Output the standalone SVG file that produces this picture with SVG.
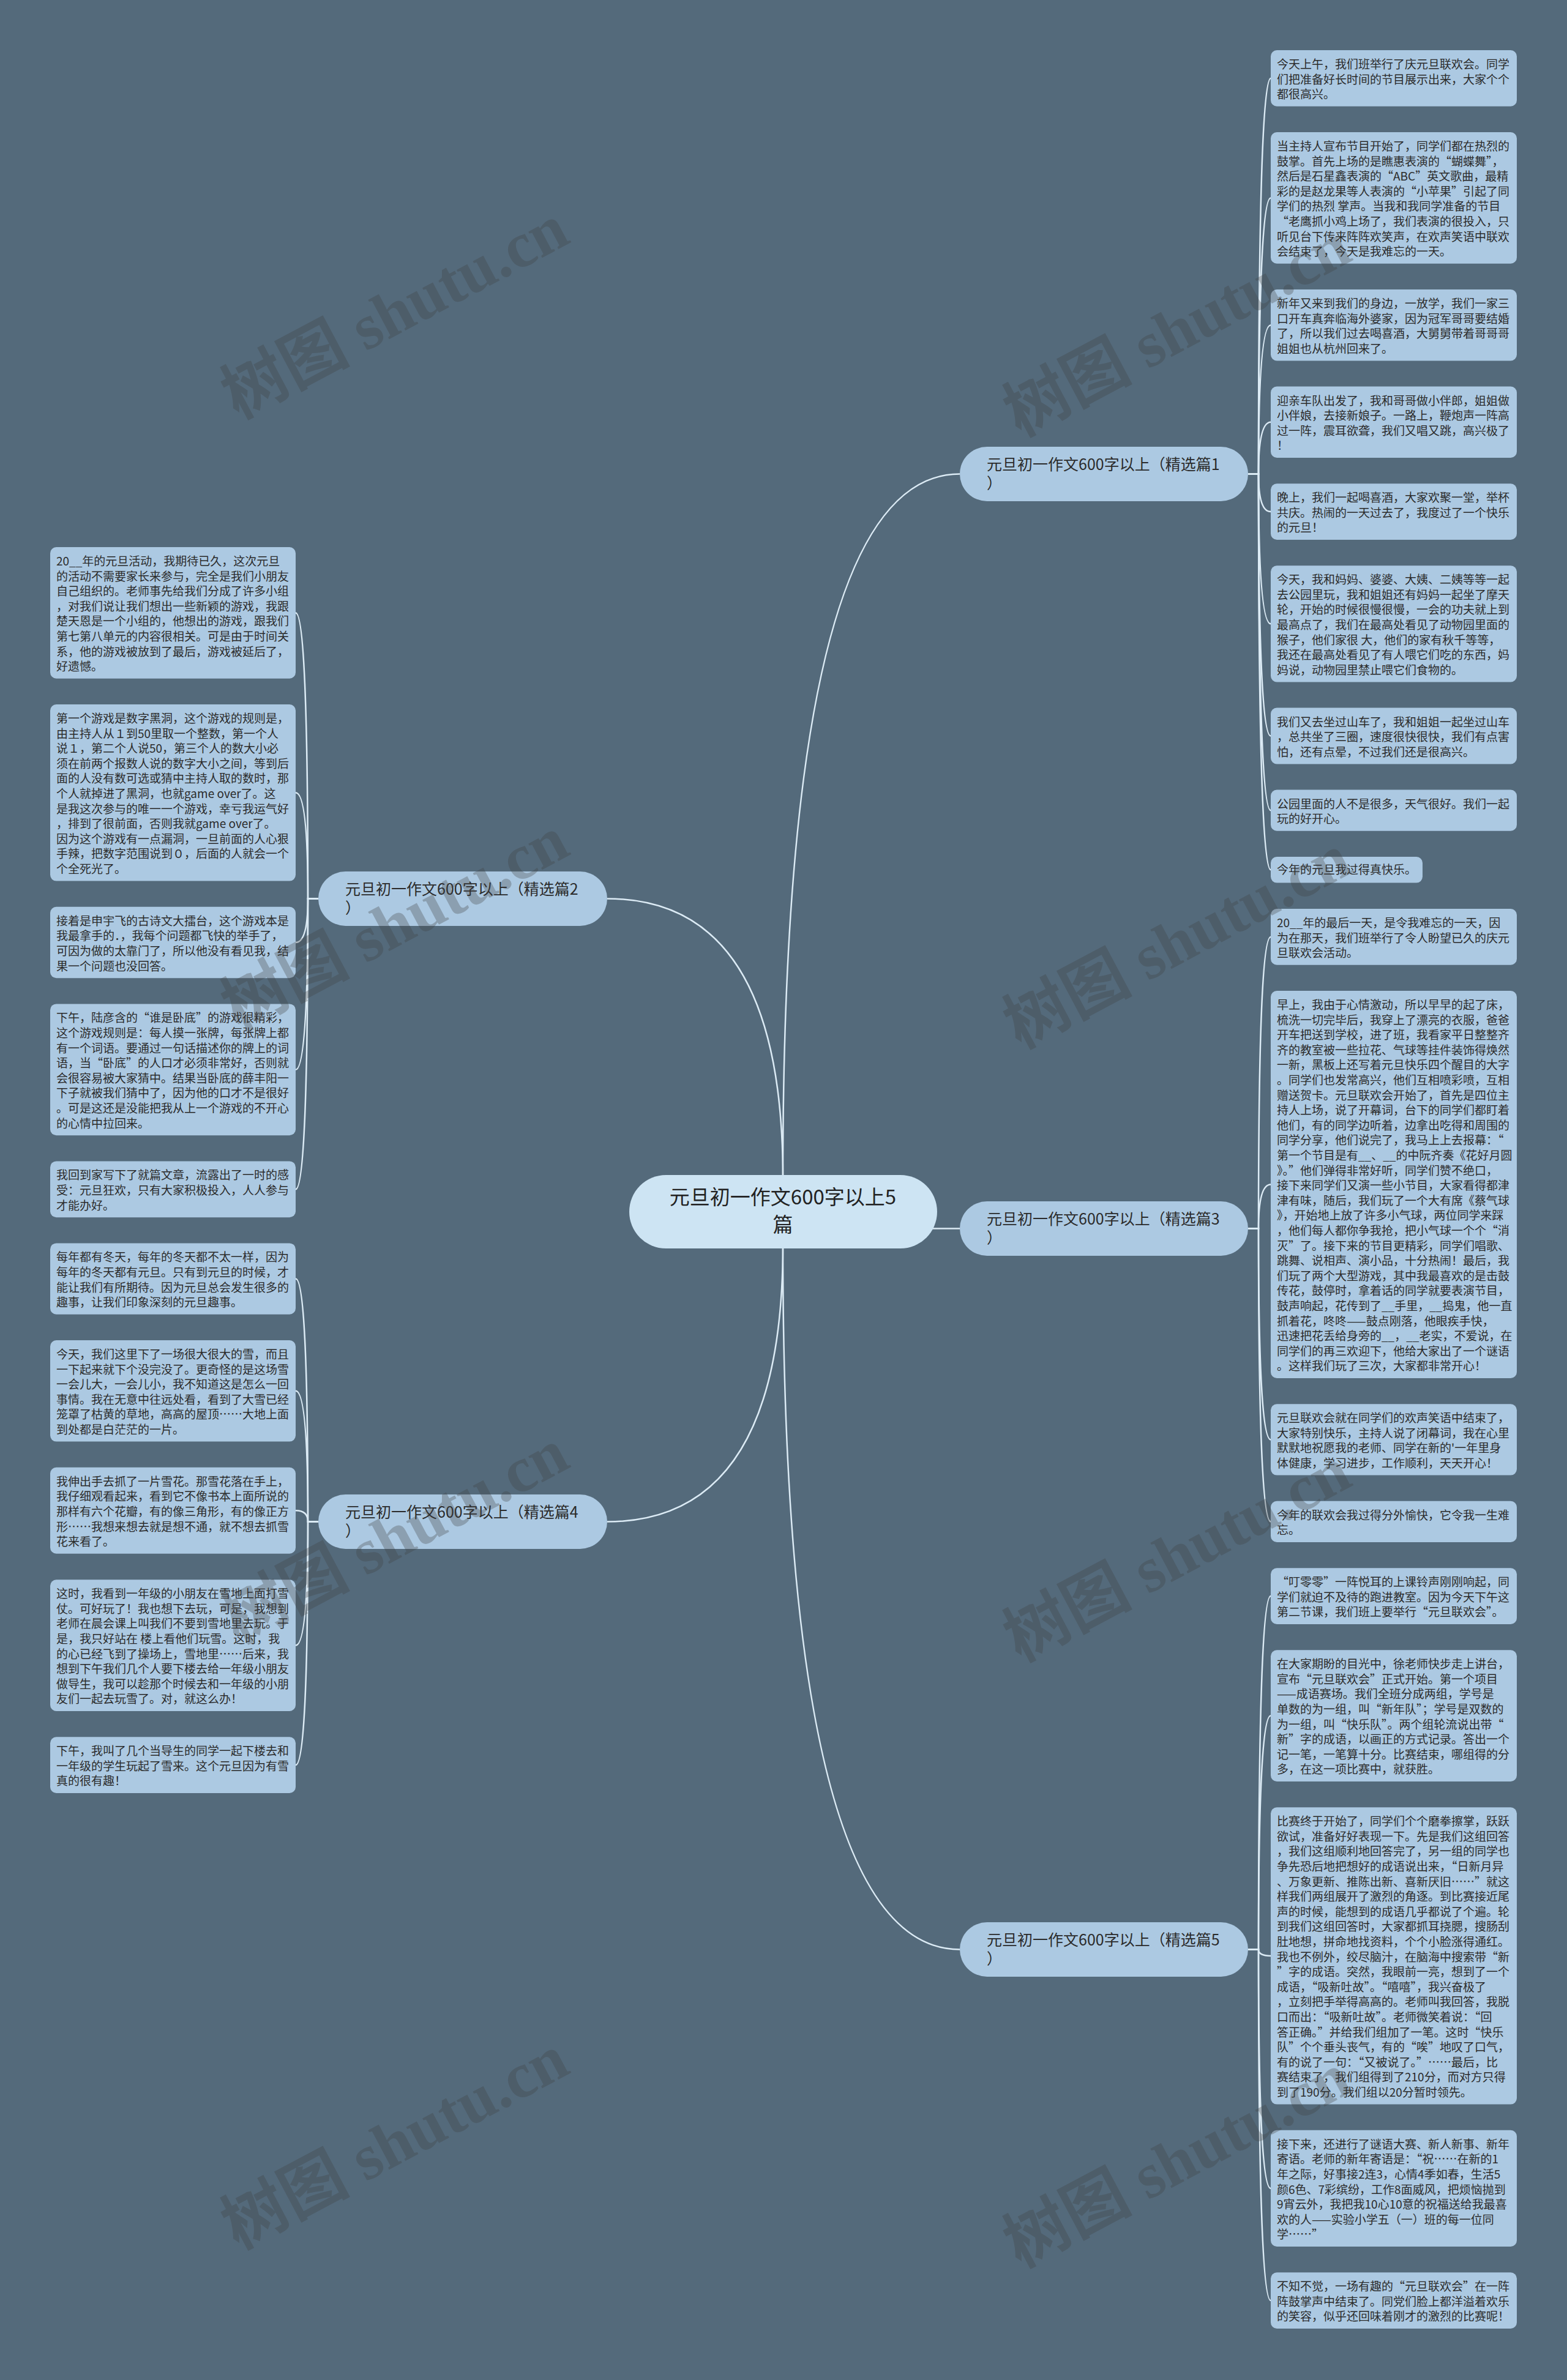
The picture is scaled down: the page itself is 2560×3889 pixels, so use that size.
<svg xmlns="http://www.w3.org/2000/svg" width="2560" height="3889" viewBox="0 0 2560 3889">
<style>
.leaf{fill:#acc9e2}
.lt{font-family:"Noto Sans CJK SC","Noto Sans",sans-serif;font-size:19px;fill:#2b2b2b}
.br{fill:#acc9e2}
.bt{font-family:"Noto Sans CJK SC","Noto Sans",sans-serif;font-size:25px;fill:#2b2b2b}
.cn{fill:#cde4f3}
.ct{font-family:"Noto Sans CJK SC","Noto Sans",sans-serif;font-size:33px;fill:#222;text-anchor:middle}
.c{fill:none;stroke:#dcebf5;stroke-width:2.5}
.wm{font-family:"Liberation Serif","Noto Sans CJK SC",serif;font-size:105px;font-weight:bold;fill:#404040;opacity:.3;text-anchor:middle;dominant-baseline:central}
</style>
<rect width="2560" height="3889" fill="#546a7b"/>
<g id="connectors">
<path class="c" d="M1279 1925 Q1279 774.5 1568 774.5"/>
<path class="c" d="M1279 1925 Q1279 1468.5 992 1468.5"/>
<path class="c" d="M1520 2007.5 H1568"/>
<path class="c" d="M1279 2035 Q1279 2486.5 992 2486.5"/>
<path class="c" d="M1279 2035 Q1279 3185.5 1568 3185.5"/>
<path class="c" d="M2039 774.5 H2056 Q2056 127.9 2076 127.9"/>
<path class="c" d="M2039 774.5 H2056 Q2056 323.4 2076 323.4"/>
<path class="c" d="M2039 774.5 H2056 Q2056 531.2 2076 531.2"/>
<path class="c" d="M2039 774.5 H2056 Q2056 689.8 2076 689.8"/>
<path class="c" d="M2039 774.5 H2056 Q2056 836.1 2076 836.1"/>
<path class="c" d="M2039 774.5 H2056 Q2056 1019.3 2076 1019.3"/>
<path class="c" d="M2039 774.5 H2056 Q2056 1202.5 2076 1202.5"/>
<path class="c" d="M2039 774.5 H2056 Q2056 1324.2 2076 1324.2"/>
<path class="c" d="M2039 774.5 H2056 Q2056 1421.3 2076 1421.3"/>
<path class="c" d="M2039 2007.5 H2056 Q2056 1530.9 2076 1530.9"/>
<path class="c" d="M2039 2007.5 H2056 Q2056 1935.5 2076 1935.5"/>
<path class="c" d="M2039 2007.5 H2056 Q2056 2352.4 2076 2352.4"/>
<path class="c" d="M2039 2007.5 H2056 Q2056 2486.4 2076 2486.4"/>
<path class="c" d="M2039 3185.5 H2056 Q2056 2608.1 2076 2608.1"/>
<path class="c" d="M2039 3185.5 H2056 Q2056 2803.6 2076 2803.6"/>
<path class="c" d="M2039 3185.5 H2056 Q2056 3195.9 2076 3195.9"/>
<path class="c" d="M2039 3185.5 H2056 Q2056 3575.9 2076 3575.9"/>
<path class="c" d="M2039 3185.5 H2056 Q2056 3759.1 2076 3759.1"/>
<path class="c" d="M520 1468.5 H503 Q503 1001.4 483 1001.4"/>
<path class="c" d="M520 1468.5 H503 Q503 1295.3 483 1295.3"/>
<path class="c" d="M520 1468.5 H503 Q503 1540 483 1540"/>
<path class="c" d="M520 1468.5 H503 Q503 1747.8 483 1747.8"/>
<path class="c" d="M520 1468.5 H503 Q503 1943.3 483 1943.3"/>
<path class="c" d="M520 2486.5 H503 Q503 2089.6 483 2089.6"/>
<path class="c" d="M520 2486.5 H503 Q503 2272.8 483 2272.8"/>
<path class="c" d="M520 2486.5 H503 Q503 2468.3 483 2468.3"/>
<path class="c" d="M520 2486.5 H503 Q503 2688.6 483 2688.6"/>
<path class="c" d="M520 2486.5 H503 Q503 2884.1 483 2884.1"/>
</g>
<g id="center">
<rect class="cn" x="1028" y="1920" width="503" height="120" rx="60"/>
<text class="ct" x="1279" y="1967.5"><tspan x="1279">元旦初一作文600字以上5</tspan><tspan x="1279" dy="45">篇</tspan></text>
</g>
<g id="branch1">
<rect class="br" x="1568" y="730" width="471" height="89" rx="44.5"/>
<text class="bt" x="1612" y="768"><tspan x="1612">元旦初一作文600字以上（精选篇1</tspan><tspan x="1612" dy="31">）</tspan></text>
</g>
<g id="branch3">
<rect class="br" x="1568" y="1963" width="471" height="89" rx="44.5"/>
<text class="bt" x="1612" y="2001"><tspan x="1612">元旦初一作文600字以上（精选篇3</tspan><tspan x="1612" dy="31">）</tspan></text>
</g>
<g id="branch5">
<rect class="br" x="1568" y="3141" width="471" height="89" rx="44.5"/>
<text class="bt" x="1612" y="3179"><tspan x="1612">元旦初一作文600字以上（精选篇5</tspan><tspan x="1612" dy="31">）</tspan></text>
</g>
<g id="branch2">
<rect class="br" x="520" y="1424" width="472" height="89" rx="44.5"/>
<text class="bt" x="564" y="1462"><tspan x="564">元旦初一作文600字以上（精选篇2</tspan><tspan x="564" dy="31">）</tspan></text>
</g>
<g id="branch4">
<rect class="br" x="520" y="2442" width="472" height="89" rx="44.5"/>
<text class="bt" x="564" y="2480"><tspan x="564">元旦初一作文600字以上（精选篇4</tspan><tspan x="564" dy="31">）</tspan></text>
</g>
<g id="leaf1a"><rect class="leaf" x="2076" y="82" width="402" height="91.8" rx="10"/>
<text class="lt" y="112"><tspan x="2086">今天上午，我们班举行了庆元旦联欢会。同学</tspan><tspan x="2086" dy="24.6">们把准备好长时间的节目展示出来，大家个个</tspan><tspan x="2086" dy="24.6">都很高兴。</tspan></text></g>
<g id="leaf1b"><rect class="leaf" x="2076" y="216" width="402" height="214.8" rx="10"/>
<text class="lt" y="246"><tspan x="2086">当主持人宣布节目开始了，同学们都在热烈的</tspan><tspan x="2086" dy="24.6">鼓掌。首先上场的是瞧惠表演的“蝴蝶舞”，</tspan><tspan x="2086" dy="24.6">然后是石星鑫表演的“ABC”英文歌曲，最精</tspan><tspan x="2086" dy="24.6">彩的是赵龙果等人表演的“小苹果”引起了同</tspan><tspan x="2086" dy="24.6">学们的热烈 掌声。当我和我同学准备的节目</tspan><tspan x="2086" dy="24.6">“老鹰抓小鸡上场了，我们表演的很投入，只</tspan><tspan x="2086" dy="24.6">听见台下传来阵阵欢笑声，在欢声笑语中联欢</tspan><tspan x="2086" dy="24.6">会结束了，今天是我难忘的一天。</tspan></text></g>
<g id="leaf1c"><rect class="leaf" x="2076" y="473" width="402" height="116.4" rx="10"/>
<text class="lt" y="503"><tspan x="2086">新年又来到我们的身边，一放学，我们一家三</tspan><tspan x="2086" dy="24.6">口开车真奔临海外婆家，因为冠军哥哥要结婚</tspan><tspan x="2086" dy="24.6">了，所以我们过去喝喜酒，大舅舅带着哥哥哥</tspan><tspan x="2086" dy="24.6">姐姐也从杭州回来了。</tspan></text></g>
<g id="leaf1d"><rect class="leaf" x="2076" y="631.6" width="402" height="116.4" rx="10"/>
<text class="lt" y="661.6"><tspan x="2086">迎亲车队出发了，我和哥哥做小伴郎，姐姐做</tspan><tspan x="2086" dy="24.6">小伴娘，去接新娘子。一路上，鞭炮声一阵高</tspan><tspan x="2086" dy="24.6">过一阵，震耳欲聋，我们又唱又跳，高兴极了</tspan><tspan x="2086" dy="24.6">！</tspan></text></g>
<g id="leaf1e"><rect class="leaf" x="2076" y="790.2" width="402" height="91.8" rx="10"/>
<text class="lt" y="820.2"><tspan x="2086">晚上，我们一起喝喜酒，大家欢聚一堂，举杯</tspan><tspan x="2086" dy="24.6">共庆。热闹的一天过去了，我度过了一个快乐</tspan><tspan x="2086" dy="24.6">的元旦！</tspan></text></g>
<g id="leaf1f"><rect class="leaf" x="2076" y="924.2" width="402" height="190.2" rx="10"/>
<text class="lt" y="954.2"><tspan x="2086">今天，我和妈妈、婆婆、大姨、二姨等等一起</tspan><tspan x="2086" dy="24.6">去公园里玩，我和姐姐还有妈妈一起坐了摩天</tspan><tspan x="2086" dy="24.6">轮，开始的时候很慢很慢，一会的功夫就上到</tspan><tspan x="2086" dy="24.6">最高点了，我们在最高处看见了动物园里面的</tspan><tspan x="2086" dy="24.6">猴子，他们家很 大，他们的家有秋千等等，</tspan><tspan x="2086" dy="24.6">我还在最高处看见了有人喂它们吃的东西，妈</tspan><tspan x="2086" dy="24.6">妈说，动物园里禁止喂它们食物的。</tspan></text></g>
<g id="leaf1g"><rect class="leaf" x="2076" y="1156.6" width="402" height="91.8" rx="10"/>
<text class="lt" y="1186.6"><tspan x="2086">我们又去坐过山车了，我和姐姐一起坐过山车</tspan><tspan x="2086" dy="24.6">，总共坐了三圈，速度很快很快，我们有点害</tspan><tspan x="2086" dy="24.6">怕，还有点晕，不过我们还是很高兴。</tspan></text></g>
<g id="leaf1h"><rect class="leaf" x="2076" y="1290.6" width="402" height="67.2" rx="10"/>
<text class="lt" y="1320.6"><tspan x="2086">公园里面的人不是很多，天气很好。我们一起</tspan><tspan x="2086" dy="24.6">玩的好开心。</tspan></text></g>
<g id="leaf1i"><rect class="leaf" x="2076" y="1400" width="248" height="42.6" rx="10"/>
<text class="lt" y="1428"><tspan x="2086">今年的元旦我过得真快乐。</tspan></text></g>
<g id="leaf3a"><rect class="leaf" x="2076" y="1485" width="402" height="91.8" rx="10"/>
<text class="lt" y="1515"><tspan x="2086">20__年的最后一天，是令我难忘的一天，因</tspan><tspan x="2086" dy="24.6">为在那天，我们班举行了令人盼望已久的庆元</tspan><tspan x="2086" dy="24.6">旦联欢会活动。</tspan></text></g>
<g id="leaf3b"><rect class="leaf" x="2076" y="1619" width="402" height="633" rx="10"/>
<text class="lt" y="1649"><tspan x="2086">早上，我由于心情激动，所以早早的起了床，</tspan><tspan x="2086" dy="24.6">梳洗一切完毕后，我穿上了漂亮的衣服，爸爸</tspan><tspan x="2086" dy="24.6">开车把送到学校，进了班，我看家平日整整齐</tspan><tspan x="2086" dy="24.6">齐的教室被一些拉花、气球等挂件装饰得焕然</tspan><tspan x="2086" dy="24.6">一新，黑板上还写着元旦快乐四个醒目的大字</tspan><tspan x="2086" dy="24.6">。同学们也发常高兴，他们互相喷彩喷，互相</tspan><tspan x="2086" dy="24.6">赠送贺卡。元旦联欢会开始了，首先是四位主</tspan><tspan x="2086" dy="24.6">持人上场，说了开幕词，台下的同学们都盯着</tspan><tspan x="2086" dy="24.6">他们，有的同学边听着，边拿出吃得和周围的</tspan><tspan x="2086" dy="24.6">同学分享，他们说完了，我马上上去报幕：“</tspan><tspan x="2086" dy="24.6">第一个节目是有__、__的中阮齐奏《花好月圆</tspan><tspan x="2086" dy="24.6">》。”他们弹得非常好听，同学们赞不绝口，</tspan><tspan x="2086" dy="24.6">接下来同学们又演一些小节目，大家看得都津</tspan><tspan x="2086" dy="24.6">津有味，随后，我们玩了一个大有席《蔡气球</tspan><tspan x="2086" dy="24.6">》，开始地上放了许多小气球，两位同学来踩</tspan><tspan x="2086" dy="24.6">，他们每人都你争我抢，把小气球一个个“消</tspan><tspan x="2086" dy="24.6">灭”了。接下来的节目更精彩，同学们唱歌、</tspan><tspan x="2086" dy="24.6">跳舞、说相声、演小品，十分热闹！最后，我</tspan><tspan x="2086" dy="24.6">们玩了两个大型游戏，其中我最喜欢的是击鼓</tspan><tspan x="2086" dy="24.6">传花，鼓停时，拿着话的同学就要表演节目，</tspan><tspan x="2086" dy="24.6">鼓声响起，花传到了__手里，__捣鬼，他一直</tspan><tspan x="2086" dy="24.6">抓着花，咚咚——鼓点刚落，他眼疾手快，</tspan><tspan x="2086" dy="24.6">迅速把花丢给身旁的__，__老实，不爱说，在</tspan><tspan x="2086" dy="24.6">同学们的再三欢迎下，他给大家出了一个谜语</tspan><tspan x="2086" dy="24.6">。这样我们玩了三次，大家都非常开心！</tspan></text></g>
<g id="leaf3c"><rect class="leaf" x="2076" y="2294.2" width="402" height="116.4" rx="10"/>
<text class="lt" y="2324.2"><tspan x="2086">元旦联欢会就在同学们的欢声笑语中结束了，</tspan><tspan x="2086" dy="24.6">大家特别快乐，主持人说了闭幕词，我在心里</tspan><tspan x="2086" dy="24.6">默默地祝愿我的老师、同学在新的'一年里身</tspan><tspan x="2086" dy="24.6">体健康，学习进步，工作顺利，天天开心！</tspan></text></g>
<g id="leaf3d"><rect class="leaf" x="2076" y="2452.8" width="402" height="67.2" rx="10"/>
<text class="lt" y="2482.8"><tspan x="2086">今年的联欢会我过得分外愉快，它令我一生难</tspan><tspan x="2086" dy="24.6">忘。</tspan></text></g>
<g id="leaf5a"><rect class="leaf" x="2076" y="2562.2" width="402" height="91.8" rx="10"/>
<text class="lt" y="2592.2"><tspan x="2086">“叮零零”一阵悦耳的上课铃声刚刚响起，同</tspan><tspan x="2086" dy="24.6">学们就迫不及待的跑进教室。因为今天下午这</tspan><tspan x="2086" dy="24.6">第二节课，我们班上要举行“元旦联欢会”。</tspan></text></g>
<g id="leaf5b"><rect class="leaf" x="2076" y="2696.2" width="402" height="214.8" rx="10"/>
<text class="lt" y="2726.2"><tspan x="2086">在大家期盼的目光中，徐老师快步走上讲台，</tspan><tspan x="2086" dy="24.6">宣布“元旦联欢会”正式开始。第一个项目</tspan><tspan x="2086" dy="24.6">——成语赛场。我们全班分成两组，学号是</tspan><tspan x="2086" dy="24.6">单数的为一组，叫“新年队”；学号是双数的</tspan><tspan x="2086" dy="24.6">为一组，叫“快乐队”。两个组轮流说出带“</tspan><tspan x="2086" dy="24.6">新”字的成语，以画正的方式记录。答出一个</tspan><tspan x="2086" dy="24.6">记一笔，一笔算十分。比赛结束，哪组得的分</tspan><tspan x="2086" dy="24.6">多，在这一项比赛中，就获胜。</tspan></text></g>
<g id="leaf5c"><rect class="leaf" x="2076" y="2953.2" width="402" height="485.4" rx="10"/>
<text class="lt" y="2983.2"><tspan x="2086">比赛终于开始了，同学们个个磨拳擦掌，跃跃</tspan><tspan x="2086" dy="24.6">欲试，准备好好表现一下。先是我们这组回答</tspan><tspan x="2086" dy="24.6">，我们这组顺利地回答完了，另一组的同学也</tspan><tspan x="2086" dy="24.6">争先恐后地把想好的成语说出来，“日新月异</tspan><tspan x="2086" dy="24.6">、万象更新、推陈出新、喜新厌旧……”就这</tspan><tspan x="2086" dy="24.6">样我们两组展开了激烈的角逐。到比赛接近尾</tspan><tspan x="2086" dy="24.6">声的时候，能想到的成语几乎都说了个遍。轮</tspan><tspan x="2086" dy="24.6">到我们这组回答时，大家都抓耳挠腮，搜肠刮</tspan><tspan x="2086" dy="24.6">肚地想，拼命地找资料，个个小脸涨得通红。</tspan><tspan x="2086" dy="24.6">我也不例外，绞尽脑汁，在脑海中搜索带“新</tspan><tspan x="2086" dy="24.6">”字的成语。突然，我眼前一亮，想到了一个</tspan><tspan x="2086" dy="24.6">成语，“吸新吐故”。“嘻嘻”，我兴奋极了</tspan><tspan x="2086" dy="24.6">，立刻把手举得高高的。老师叫我回答，我脱</tspan><tspan x="2086" dy="24.6">口而出：“吸新吐故”。老师微笑着说：“回</tspan><tspan x="2086" dy="24.6">答正确。”并给我们组加了一笔。这时“快乐</tspan><tspan x="2086" dy="24.6">队”个个垂头丧气，有的“唉”地叹了口气，</tspan><tspan x="2086" dy="24.6">有的说了一句：“又被说了。”……最后，比</tspan><tspan x="2086" dy="24.6">赛结束了，我们组得到了210分，而对方只得</tspan><tspan x="2086" dy="24.6">到了190分。我们组以20分暂时领先。</tspan></text></g>
<g id="leaf5d"><rect class="leaf" x="2076" y="3480.8" width="402" height="190.2" rx="10"/>
<text class="lt" y="3510.8"><tspan x="2086">接下来，还进行了谜语大赛、新人新事、新年</tspan><tspan x="2086" dy="24.6">寄语。老师的新年寄语是：“祝……在新的1</tspan><tspan x="2086" dy="24.6">年之际，好事接2连3，心情4季如春，生活5</tspan><tspan x="2086" dy="24.6">颜6色、7彩缤纷，工作8面威风，把烦恼抛到</tspan><tspan x="2086" dy="24.6">9宵云外，我把我10心10意的祝福送给我最喜</tspan><tspan x="2086" dy="24.6">欢的人——实验小学五（一）班的每一位同</tspan><tspan x="2086" dy="24.6">学……”</tspan></text></g>
<g id="leaf5e"><rect class="leaf" x="2076" y="3713.2" width="402" height="91.8" rx="10"/>
<text class="lt" y="3743.2"><tspan x="2086">不知不觉，一场有趣的“元旦联欢会”在一阵</tspan><tspan x="2086" dy="24.6">阵鼓掌声中结束了。同党们脸上都洋溢着欢乐</tspan><tspan x="2086" dy="24.6">的笑容，似乎还回味着刚才的激烈的比赛呢！</tspan></text></g>
<g id="leaf2a"><rect class="leaf" x="82" y="894" width="401" height="214.8" rx="10"/>
<text class="lt" y="924"><tspan x="92">20__年的元旦活动，我期待已久，这次元旦</tspan><tspan x="92" dy="24.6">的活动不需要家长来参与，完全是我们小朋友</tspan><tspan x="92" dy="24.6">自己组织的。老师事先给我们分成了许多小组</tspan><tspan x="92" dy="24.6">，对我们说让我们想出一些新颖的游戏，我跟</tspan><tspan x="92" dy="24.6">楚天恩是一个小组的，他想出的游戏，跟我们</tspan><tspan x="92" dy="24.6">第七第八单元的内容很相关。可是由于时间关</tspan><tspan x="92" dy="24.6">系，他的游戏被放到了最后，游戏被延后了，</tspan><tspan x="92" dy="24.6">好遗憾。</tspan></text></g>
<g id="leaf2b"><rect class="leaf" x="82" y="1151" width="401" height="288.6" rx="10"/>
<text class="lt" y="1181"><tspan x="92">第一个游戏是数字黑洞，这个游戏的规则是，</tspan><tspan x="92" dy="24.6">由主持人从１到50里取一个整数，第一个人</tspan><tspan x="92" dy="24.6">说１，第二个人说50，第三个人的数大小必</tspan><tspan x="92" dy="24.6">须在前两个报数人说的数字大小之间，等到后</tspan><tspan x="92" dy="24.6">面的人没有数可选或猜中主持人取的数时，那</tspan><tspan x="92" dy="24.6">个人就掉进了黑洞，也就game over了。这</tspan><tspan x="92" dy="24.6">是我这次参与的唯一一个游戏，幸亏我运气好</tspan><tspan x="92" dy="24.6">，排到了很前面，否则我就game over了。</tspan><tspan x="92" dy="24.6">因为这个游戏有一点漏洞，一旦前面的人心狠</tspan><tspan x="92" dy="24.6">手辣，把数字范围说到０，后面的人就会一个</tspan><tspan x="92" dy="24.6">个全死光了。</tspan></text></g>
<g id="leaf2c"><rect class="leaf" x="82" y="1481.8" width="401" height="116.4" rx="10"/>
<text class="lt" y="1511.8"><tspan x="92">接着是申宇飞的古诗文大擂台，这个游戏本是</tspan><tspan x="92" dy="24.6">我最拿手的．，我每个问题都飞快的举手了，</tspan><tspan x="92" dy="24.6">可因为做的太靠门了，所以他没有看见我，结</tspan><tspan x="92" dy="24.6">果一个问题也没回答。</tspan></text></g>
<g id="leaf2d"><rect class="leaf" x="82" y="1640.4" width="401" height="214.8" rx="10"/>
<text class="lt" y="1670.4"><tspan x="92">下午，陆彦含的“谁是卧底”的游戏很精彩，</tspan><tspan x="92" dy="24.6">这个游戏规则是：每人摸一张牌，每张牌上都</tspan><tspan x="92" dy="24.6">有一个词语。要通过一句话描述你的牌上的词</tspan><tspan x="92" dy="24.6">语，当“卧底”的人口才必须非常好，否则就</tspan><tspan x="92" dy="24.6">会很容易被大家猜中。结果当卧底的薛丰阳一</tspan><tspan x="92" dy="24.6">下子就被我们猜中了，因为他的口才不是很好</tspan><tspan x="92" dy="24.6">。可是这还是没能把我从上一个游戏的不开心</tspan><tspan x="92" dy="24.6">的心情中拉回来。</tspan></text></g>
<g id="leaf2e"><rect class="leaf" x="82" y="1897.4" width="401" height="91.8" rx="10"/>
<text class="lt" y="1927.4"><tspan x="92">我回到家写下了就篇文章，流露出了一时的感</tspan><tspan x="92" dy="24.6">受：元旦狂欢，只有大家积极投入，人人参与</tspan><tspan x="92" dy="24.6">才能办好。</tspan></text></g>
<g id="leaf4a"><rect class="leaf" x="82" y="2031.4" width="401" height="116.4" rx="10"/>
<text class="lt" y="2061.4"><tspan x="92">每年都有冬天，每年的冬天都不太一样，因为</tspan><tspan x="92" dy="24.6">每年的冬天都有元旦。只有到元旦的时候，才</tspan><tspan x="92" dy="24.6">能让我们有所期待。因为元旦总会发生很多的</tspan><tspan x="92" dy="24.6">趣事，让我们印象深刻的元旦趣事。</tspan></text></g>
<g id="leaf4b"><rect class="leaf" x="82" y="2190" width="401" height="165.6" rx="10"/>
<text class="lt" y="2220"><tspan x="92">今天，我们这里下了一场很大很大的雪，而且</tspan><tspan x="92" dy="24.6">一下起来就下个没完没了。更奇怪的是这场雪</tspan><tspan x="92" dy="24.6">一会儿大，一会儿小，我不知道这是怎么一回</tspan><tspan x="92" dy="24.6">事情。我在无意中往远处看，看到了大雪已经</tspan><tspan x="92" dy="24.6">笼罩了枯黄的草地，高高的屋顶……大地上面</tspan><tspan x="92" dy="24.6">到处都是白茫茫的一片。</tspan></text></g>
<g id="leaf4c"><rect class="leaf" x="82" y="2397.8" width="401" height="141" rx="10"/>
<text class="lt" y="2427.8"><tspan x="92">我伸出手去抓了一片雪花。那雪花落在手上，</tspan><tspan x="92" dy="24.6">我仔细观看起来，看到它不像书本上面所说的</tspan><tspan x="92" dy="24.6">那样有六个花瓣，有的像三角形，有的像正方</tspan><tspan x="92" dy="24.6">形……我想来想去就是想不通，就不想去抓雪</tspan><tspan x="92" dy="24.6">花来看了。</tspan></text></g>
<g id="leaf4d"><rect class="leaf" x="82" y="2581.2" width="401" height="214.8" rx="10"/>
<text class="lt" y="2611.2"><tspan x="92">这时，我看到一年级的小朋友在雪地上面打雪</tspan><tspan x="92" dy="24.6">仗。可好玩了！我也想下去玩，可是，我想到</tspan><tspan x="92" dy="24.6">老师在晨会课上叫我们不要到雪地里去玩。于</tspan><tspan x="92" dy="24.6">是，我只好站在 楼上看他们玩雪。这时，我</tspan><tspan x="92" dy="24.6">的心已经飞到了操场上，雪地里……后来，我</tspan><tspan x="92" dy="24.6">想到下午我们几个人要下楼去给一年级小朋友</tspan><tspan x="92" dy="24.6">做导生，我可以趁那个时候去和一年级的小朋</tspan><tspan x="92" dy="24.6">友们一起去玩雪了。对，就这么办！</tspan></text></g>
<g id="leaf4e"><rect class="leaf" x="82" y="2838.2" width="401" height="91.8" rx="10"/>
<text class="lt" y="2868.2"><tspan x="92">下午，我叫了几个当导生的同学一起下楼去和</tspan><tspan x="92" dy="24.6">一年级的学生玩起了雪来。这个元旦因为有雪</tspan><tspan x="92" dy="24.6">真的很有趣！</tspan></text></g>
<g id="watermark">
<text class="wm" x="645" y="509" transform="rotate(-28 645 509)">树图 shutu.cn</text>
<text class="wm" x="645" y="1509" transform="rotate(-28 645 1509)">树图 shutu.cn</text>
<text class="wm" x="645" y="2510" transform="rotate(-28 645 2510)">树图 shutu.cn</text>
<text class="wm" x="645" y="3500" transform="rotate(-28 645 3500)">树图 shutu.cn</text>
<text class="wm" x="1923" y="538" transform="rotate(-28 1923 538)">树图 shutu.cn</text>
<text class="wm" x="1923" y="1538" transform="rotate(-28 1923 1538)">树图 shutu.cn</text>
<text class="wm" x="1923" y="2540" transform="rotate(-28 1923 2540)">树图 shutu.cn</text>
<text class="wm" x="1923" y="3530" transform="rotate(-28 1923 3530)">树图 shutu.cn</text>
</g>
</svg>
